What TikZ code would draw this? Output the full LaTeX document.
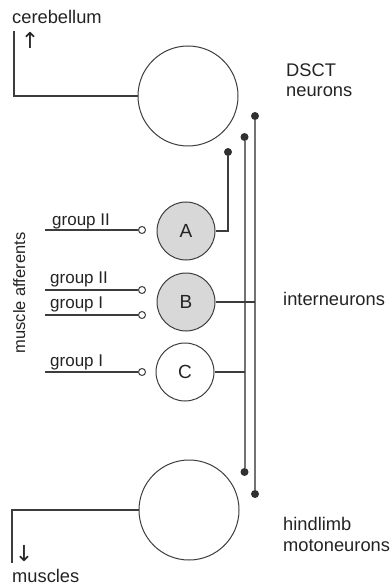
\documentclass[tikz,border=0pt]{standalone}
\usepackage{fontspec}
\setmainfont{Liberation Sans}
\newfontfamily\symfont{DejaVu Sans}
\definecolor{ln}{RGB}{60,60,60}
\definecolor{fillg}{RGB}{216,216,216}
\definecolor{txt}{RGB}{35,35,35}
\definecolor{railc}{RGB}{115,115,115}
\begin{document}
\begin{tikzpicture}[x=1pt,y=-1pt,
  lbl/.style={inner sep=0pt, text=txt, font=\fontsize{18.3}{21}\selectfont, anchor=base west},
  grp/.style={inner sep=0pt, text=txt, font=\fontsize{17}{20}\selectfont, anchor=base west},
  arrowsym/.style={inner sep=0pt, text=txt, font=\symfont\fontsize{22}{24}\selectfont},
  big/.style={circle, draw=ln, line width=1pt, minimum size=100pt, inner sep=0pt},
  small/.style={circle, draw=ln, line width=1pt, minimum size=58pt, inner sep=0pt, font=\fontsize{19}{22}\selectfont, text=txt},
  term/.style={circle, draw=ln, line width=1pt, fill=white, minimum size=7pt, inner sep=0pt},
  knob/.style={circle, fill=ln!80!black, minimum size=8pt, inner sep=0pt},
  wire/.style={draw=ln, line width=1.1pt},
  rail/.style={draw=railc, line width=2pt}]
\useasboundingbox (0,0) rectangle (389,585);
% neurons
\node[big] (dsct) at (188,96) {};
\node[big] (mn) at (189,510) {};
\node[small, fill=fillg] (A) at (186,231) {A};
\node[small, fill=fillg] (B) at (186,302) {B};
\node[small] (C) at (185,372) {C};
% afferent terminals
\node[term] (tA) at (142,230) {};
\node[term] (tB2) at (142,290) {};
\node[term] (tB1) at (142,315) {};
\node[term] (tC) at (142,372) {};
\coordinate (sA) at (45,230);
\coordinate (sB2) at (45,290);
\coordinate (sB1) at (45,315);
\coordinate (sC) at (45,372);
\draw[wire] (sA) -- (tA);
\draw[wire] (sB2) -- (tB2);
\draw[wire] (sB1) -- (tB1);
\draw[wire] (sC) -- (tC);
% knobs
\node[knob] (kA) at (228,152) {};
\node[knob] (k1t) at (244.5,137) {};
\node[knob] (k1b) at (244.5,472) {};
\node[knob] (k2t) at (255,116) {};
\node[knob] (k2b) at (255,494) {};
\draw[rail] (k1t) -- (k1b);
\draw[rail] (k2t) -- (k2b);
\draw[wire] (A.east) -| (kA);
\draw[wire] (B.east) -- (B.east -| k2t);
\draw[wire] (C.east) -- (C.east -| k1t);
% outputs
\coordinate (cer) at (14,31);
\coordinate (mus) at (12,563);
\draw[wire] (dsct.west) -| (cer);
\draw[wire] (mn.west) -| (mus);
% labels
\node[lbl] (cerebl) at (12,24) {cerebellum};
\node[arrowsym] (upar) at (30,40) {↑};
\node[lbl] (musl) at (12,582) {muscles};
\node[arrowsym] (downar) at (24,554) {↓};
\node[grp] (gA) at (52,225) {group II};
\node[grp] (gB2) at (50,283) {group II};
\node[grp] (gB1) at (50,308) {group I};
\node[grp] (gC) at (50,366) {group I};
\node[lbl, rotate=90, anchor=base, font=\fontsize{16.5}{20}\selectfont] (aff) at (25,293) {muscle afferents};
\node[lbl] (dsct1) at (286,77) {DSCT};
\node[lbl] (dsct2) at (286,97) {neurons};
\node[lbl] (inter) at (283,305) {interneurons};
\node[lbl] (hl1) at (283,530) {hindlimb};
\node[lbl] (hl2) at (283,551) {motoneurons};
\end{tikzpicture}
\end{document}
